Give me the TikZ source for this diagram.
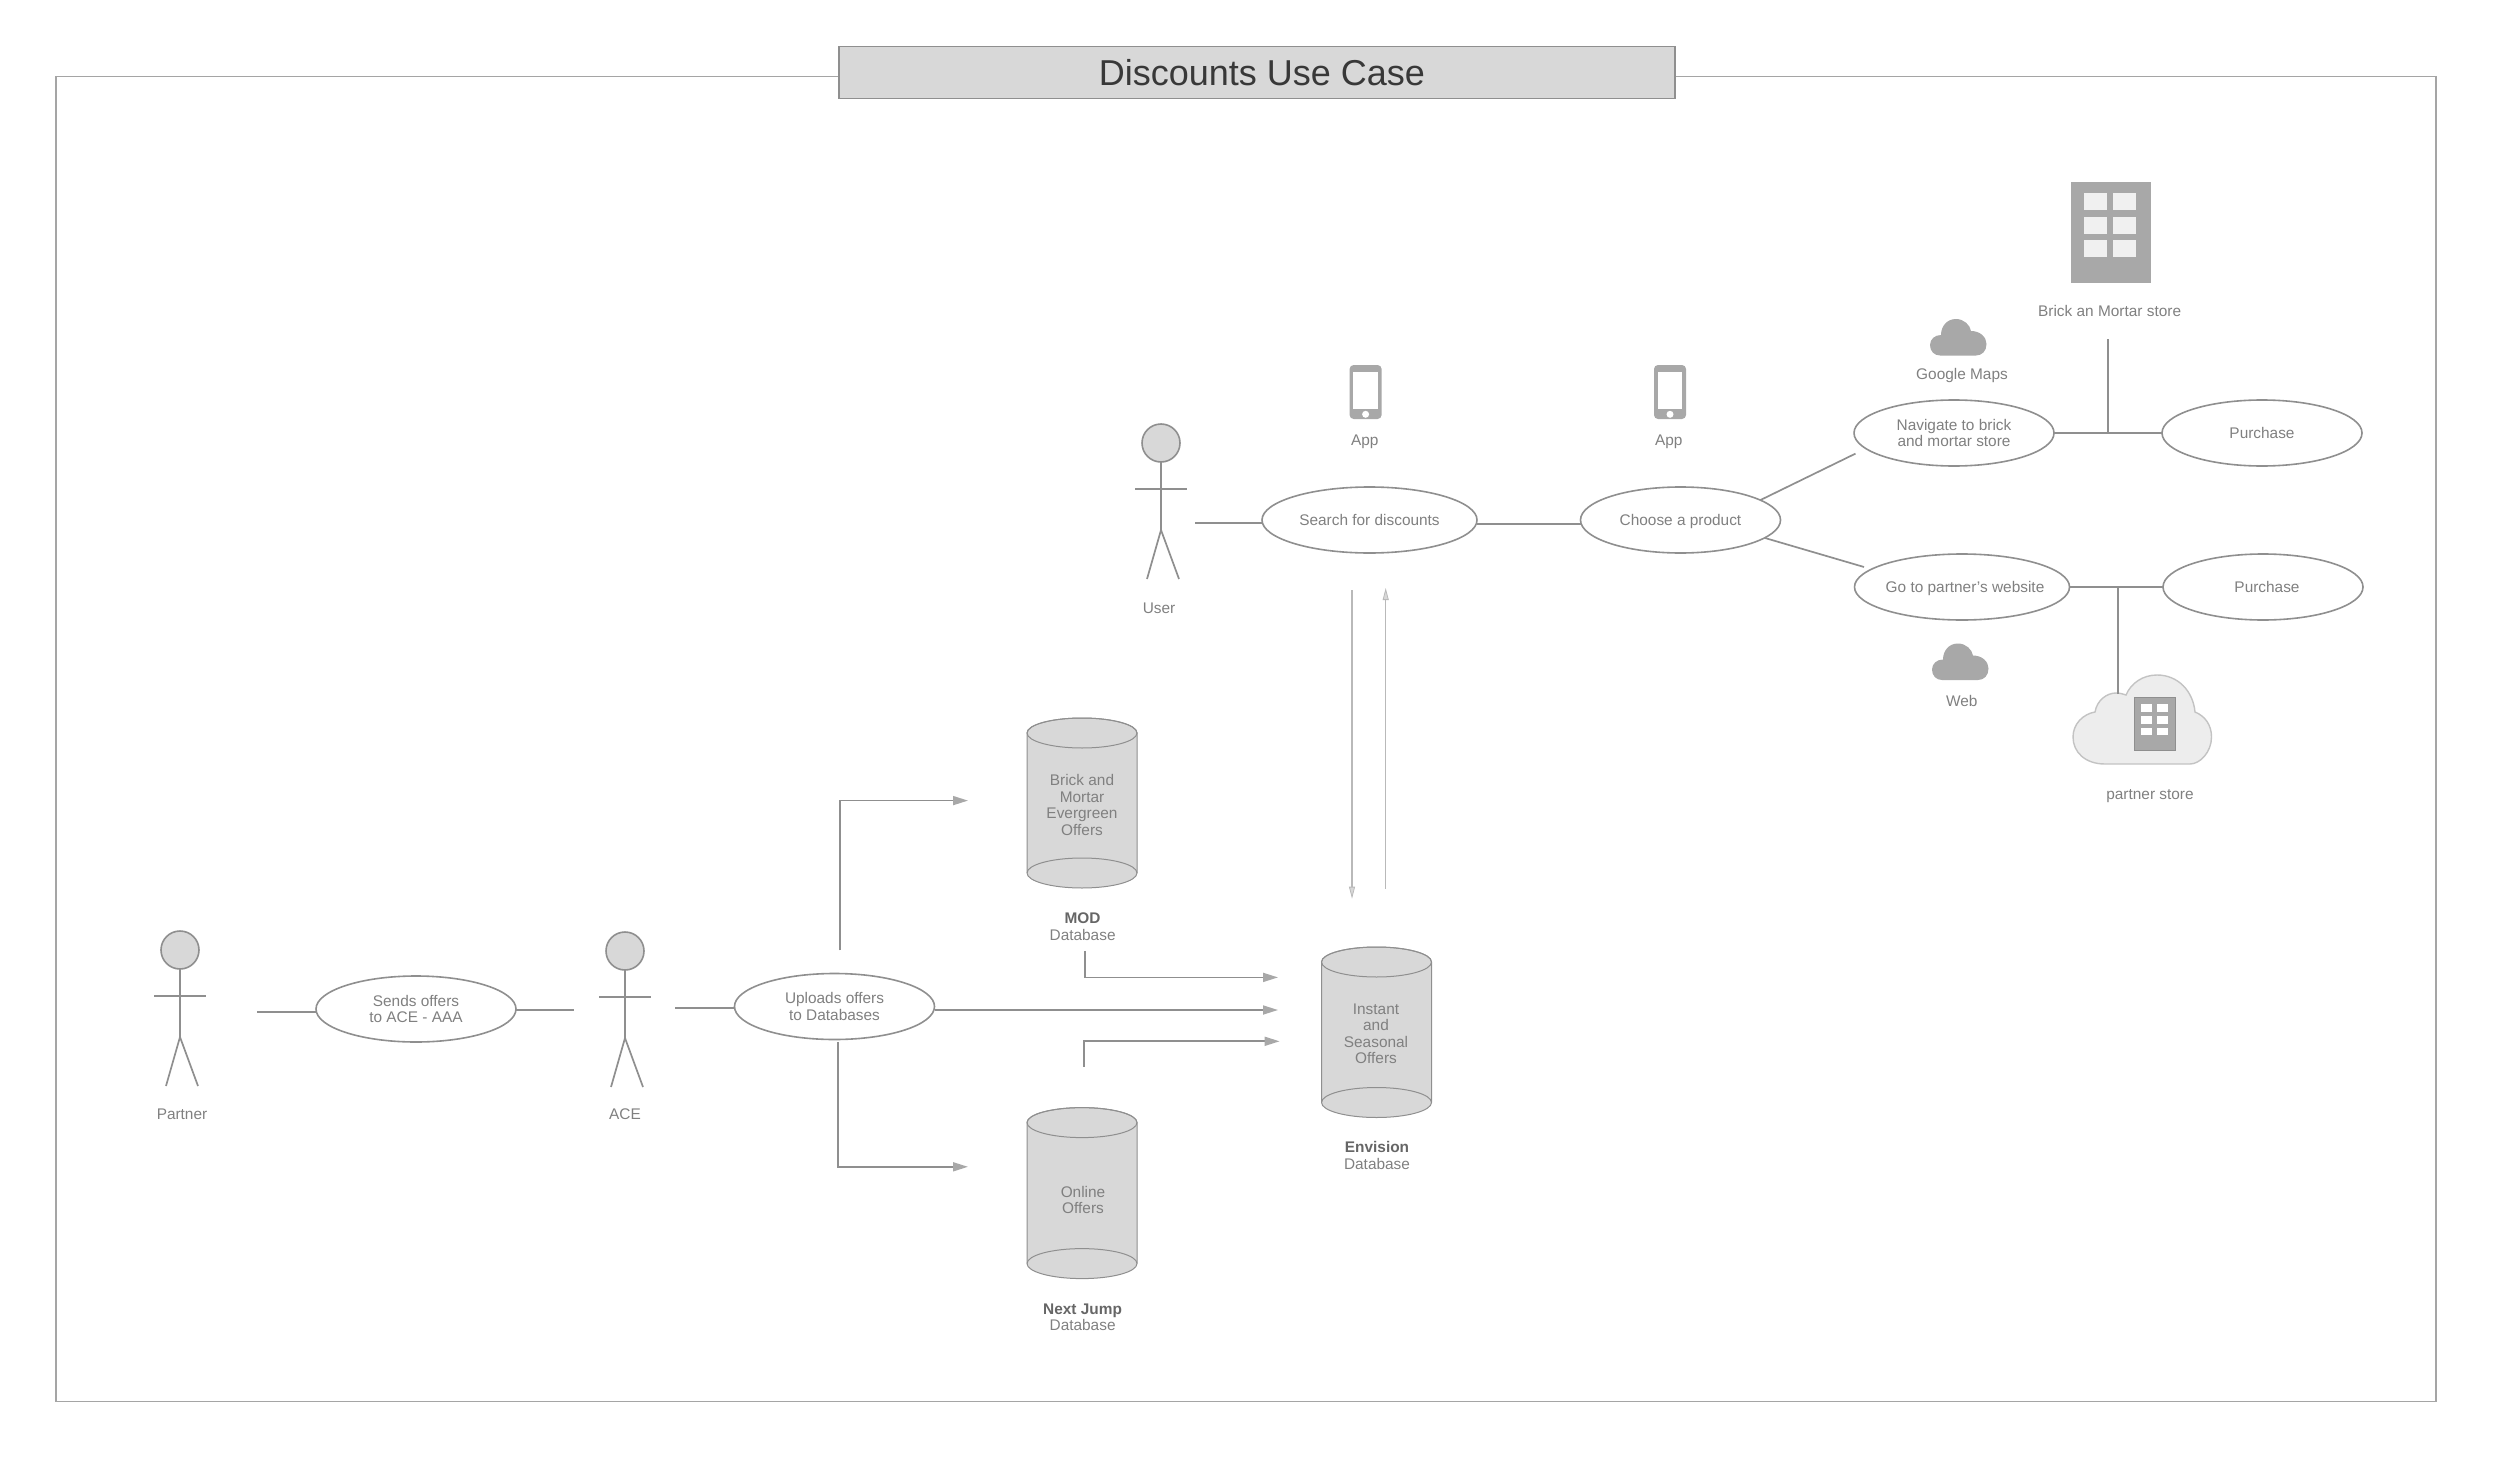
\documentclass[tikz,border=0pt]{standalone}
\usepackage{fontspec}
\setmainfont{Liberation Sans}
\usetikzlibrary{shapes.geometric, arrows.meta, positioning}
\definecolor{linegray}{HTML}{8F8F8F}
\definecolor{thingray}{HTML}{B9B9B9}
\definecolor{bodygray}{HTML}{D8D8D8}
\definecolor{icongray}{HTML}{A8A8A8}
\definecolor{textgray}{HTML}{808080}
\definecolor{boldgray}{HTML}{666666}
\tikzset{
  usecase/.style={ellipse, draw=linegray, line width=1.6pt, fill=white, minimum width=200pt, minimum height=66pt, inner xsep=-10pt, inner ysep=0pt, outer sep=0pt, align=center, font=\fontsize{15.4}{16.5}\selectfont, text=textgray},
  caption/.style={align=center, inner sep=0pt, font=\fontsize{15.4}{16.5}\selectfont, text=textgray},
  oneline/.style={text height=11pt, text depth=0pt},
  head/.style={circle, draw=linegray, line width=1.6pt, fill=bodygray, minimum size=38pt, inner sep=0pt, outer sep=0pt},
  link/.style={draw=linegray, line width=1.7pt},
  flow/.style={draw=linegray, line width=1.7pt, -{Triangle[length=15pt,width=9pt,fill=icongray,color=icongray]}},
  thinflow/.style={draw=thingray, line width=1.3pt, -{Triangle[length=12pt,width=6pt,fill=bodygray,color=thingray,line width=.8pt]}},
  minicloud/.pic={\fill[icongray] (10,36.5) .. controls (4,36.5) and (0,32) .. (0,26) .. controls (0,20) and (5,16) .. (11,16) .. controls (11,7) and (17,0) .. (26,0) .. controls (34,0) and (40,6) .. (41,12) .. controls (50,12) and (56.5,18) .. (56.5,25) .. controls (56.5,32) and (52,36.5) .. (46,36.5) -- cycle;}
}
\begin{document}
\begin{tikzpicture}[x=1pt, y=-1pt]
  \useasboundingbox (0,0) rectangle (2500,1474);
  \draw[draw=linegray!80, line width=1.2pt] (56,76.5) rectangle (2436,1401.5);
  \node[draw=linegray, line width=1.2pt, fill=bodygray, minimum width=836pt, minimum height=51.5pt, inner sep=0pt, font=\fontsize{36}{38}\selectfont, text=black!78] (title) at (1257,72.5) {\hspace{10pt}Discounts Use Case};

  \foreach \actorname/\hx/\hy in {user/1161/443, partner/180/950, ace/625/951} {
    \node[head] (\actorname) at (\hx,\hy) {};
    \draw[link] (\actorname.south) -- ++(0,68) -- ++(-14,49);
    \draw[link] (\actorname.south) ++(0,68) -- ++(18,49);
    \draw[link] (\actorname) ++(-26,46) -- ++(52,0);
  }
  \node[caption, oneline] (userlabel) at (1159,608) {User};
  \node[caption, oneline] (partnerlabel) at (182,1114) {Partner};
  \node[caption, oneline] (acelabel) at (625,1114) {ACE};

  \node[usecase, oneline, minimum width=215pt] (search) at (1369.5,520) {Search for discounts};
  \node[usecase, oneline] (choose) at (1680.5,520) {Choose a product};
  \node[usecase] (navigate) at (1954,433) {Navigate to brick\\and mortar store};
  \node[usecase, oneline] (buystore) at (2262,433) {Purchase};
  \node[usecase, oneline, minimum width=215pt] (website) at (1962,587) {\hspace*{6pt}Go to partner’s website};
  \node[usecase, oneline] (buyweb) at (2263,587) {\hspace*{8pt}Purchase};
  \node[usecase] (sends) at (416,1009) {Sends offers\\to ACE - AAA};
  \node[usecase] (uploads) at (834.5,1006.5) {Uploads offers\\to Databases};

  \foreach \phonename/\px in {searchphone/1365.6, choosephone/1670} {
    \node[fill=icongray, rounded corners=4pt, minimum width=32pt, minimum height=54pt, inner sep=0pt] (\phonename) at (\px,392) {};
    \fill[white] (\px-12.2,372) rectangle (\px+12.2,409);
    \fill[white] (\px,414.3) circle (3.5pt);
  }
  \node[caption, oneline] (searchapp) at (1364.7,440) {App};
  \node[caption, oneline] (chooseapp) at (1668.8,440) {App};

  \node[fill=icongray, draw=icongray, minimum width=79pt, minimum height=100pt, inner sep=0pt] (brick) at (2110.5,232) {};
  \foreach \wx in {2084,2113} \foreach \wy in {193,217,240}
    \fill[white!94!black] (\wx,\wy) rectangle ++(23,17);
  \node[caption, oneline] (bricklabel) at (2109.6,311) {Brick an Mortar store};

  \pic at (1930,319) {minicloud};
  \node[caption, oneline] (mapslabel) at (1962,374) {Google Maps};
  \pic at (1932,643.5) {minicloud};
  \node[caption, oneline] (weblabel) at (1961.7,701) {Web};

  \draw[draw=thingray!85, line width=1.4pt, fill=black!7] (2105,764) .. controls (2085,764) and (2073,752) .. (2073,737) .. controls (2073,724) and (2083,714) .. (2095,712) .. controls (2097,700) and (2107,693) .. (2116,693) .. controls (2120,693) and (2123,694) .. (2126,695) .. controls (2131,683) and (2143,675) .. (2157,675) .. controls (2178,675) and (2193,691) .. (2195,712) .. controls (2205,716) and (2211.5,725) .. (2211.5,737) .. controls (2211.5,752) and (2200,764) .. (2190,764) -- cycle;
  \node[fill=icongray, draw=linegray, line width=.8pt, minimum width=41pt, minimum height=53pt, inner sep=0pt] (cloudstore) at (2154.5,723.5) {};
  \foreach \wx in {2141,2156.5} \foreach \wy in {704,716,727.6}
    \fill[white] (\wx,\wy) rectangle ++(11,7.8);
  \node[caption, oneline] (partnerlabel2) at (2150,794) {partner store};

  \foreach \dx/\dtop/\dbot in {1082/733/873, 1082/1122.6/1263.6, 1376.5/962/1102.5} {
    \draw[draw=linegray, line width=1pt, fill=bodygray] (\dx-55,\dtop) -- (\dx-55,\dbot) arc[start angle=180, end angle=360, x radius=55pt, y radius=15pt] -- (\dx+55,\dtop) arc[start angle=0, end angle=180, x radius=55pt, y radius=15pt] -- cycle;
    \draw[draw=linegray, line width=1pt] (\dx,\dtop) ellipse[x radius=55pt, y radius=15pt];
    \draw[draw=linegray, line width=1pt] (\dx-55,\dbot) arc[start angle=180, end angle=0, x radius=55pt, y radius=15pt];
  }
  \node[caption] (mod) at (1082,805) {Brick and\\Mortar\\Evergreen\\Offers};
  \node[caption] (online) at (1083,1200) {Online\\Offers};
  \node[caption] (envision) at (1376,1034) {Instant\\and\\Seasonal\\Offers};
  \node[caption] (modlabel) at (1082.6,926.5) {\textbf{\textcolor{boldgray}{MOD}}\\Database};
  \node[caption] (onlinelabel) at (1082.6,1317.5) {\textbf{\textcolor{boldgray}{Next Jump}}\\Database};
  \node[caption] (envisionlabel) at (1377,1155.5) {\textbf{\textcolor{boldgray}{Envision}}\\Database};

  \coordinate (userend) at (1195,523);
  \coordinate (partnerend) at (257,1012);
  \coordinate (aceleft) at (573.6,1010);
  \coordinate (aceright) at (675.4,1008);
  \coordinate (navend) at (1855.5,453.6);
  \coordinate (webend) at (1864,567);
  \coordinate (brickend) at (2108,339);
  \coordinate (cloudend) at (2118,694);
  \draw[link] (userend) -- (userend -| search.west);
  \draw[link] ([yshift=-4pt]search.east) -- ([yshift=-4pt]choose.west);
  \draw[link] (choose.14) -- (navend);
  \draw[link] (choose.-12) -- (webend);
  \draw[link] (navigate.east) -- (buystore.west);
  \draw[link] (website.east) -- (buyweb.west);
  \draw[link] (brickend) -- (brickend |- navigate.east);
  \draw[link] (cloudend) -- (cloudend |- website.east);
  \draw[link] (partnerend) -- (partnerend -| sends.west);
  \draw[link] (aceleft -| sends.east) -- (aceleft);
  \draw[link] (aceright) -- (aceright -| uploads.west);

  \coordinate (uptop) at (840.3,950.4);
  \coordinate (upbottom) at (838.3,1041.8);
  \coordinate (modtip) at (968,800.6);
  \coordinate (onlinetip) at (968,1166.8);
  \coordinate (modfoot) at (1085.2,950.8);
  \coordinate (onlinefoot) at (1084,1066.6);
  \coordinate (envtipa) at (1278,977.4);
  \coordinate (envtipb) at (1278,1010);
  \coordinate (envtipc) at (1279.6,1041.3);
  \coordinate (downstart) at (1352,590);
  \coordinate (downtip) at (1352,898.7);
  \coordinate (upstart) at (1385.7,888.5);
  \coordinate (uptip) at (1385.7,588);
  \draw[flow] (uptop) |- (modtip);
  \draw[flow] (upbottom) |- (onlinetip);
  \draw[flow] (modfoot) |- (envtipa);
  \draw[flow] (uploads.east |- envtipb) -- (envtipb);
  \draw[flow] (onlinefoot) |- (envtipc);
  \draw[thinflow] (downstart) -- (downtip);
  \draw[thinflow] (upstart) -- (uptip);
\end{tikzpicture}
\end{document}
